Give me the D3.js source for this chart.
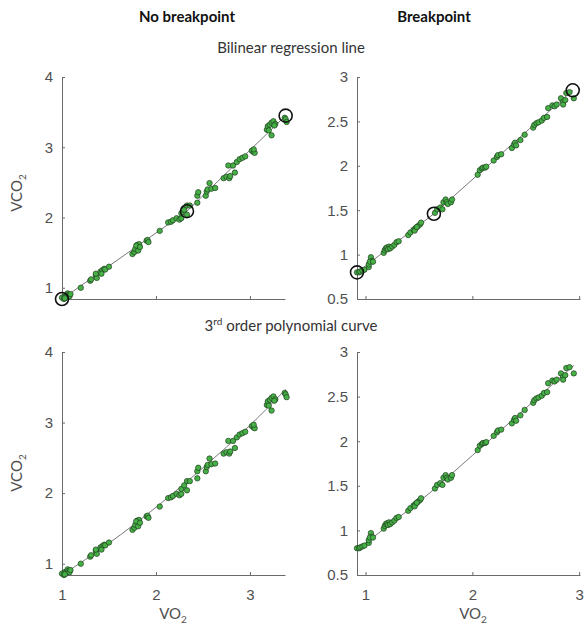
<!DOCTYPE html>
<html>
<head>
<meta charset="utf-8">
<script src="https://cdn.jsdelivr.net/npm/d3@7"></script>
<style>
  html, body { margin: 0; padding: 0; background: #fff; }
  svg { display: block; font-family: Lato, "Open Sans", sans-serif; }
  .tick text { fill: #505050; }
  .domain, .tick line { stroke: #6a6a6a; }
</style>
</head>
<body>
<svg id="chart" width="584" height="631"></svg>
<script>
// Measurements without a breakpoint (VO2, VCO2)
const noBpVO2 = [1.00,1.02,1.03,1.04,1.05,1.06,1.07,1.08,1.09,1.03,
  1.20,1.30,1.31,1.36,1.37,1.36,1.41,1.43,1.45,1.46,1.42,1.50,
  1.75,1.77,1.78,1.80,1.82,1.81,1.79,1.83,1.90,1.91,1.92,2.04,
  2.13,2.16,2.18,2.22,2.25,2.27,2.27,2.33,2.30,2.33,2.36,
  2.44,2.44,2.45,2.53,2.54,2.57,2.55,2.59,2.63,
  2.72,2.75,2.78,2.79,2.77,2.84,2.82,2.86,2.89,2.92,2.95,
  3.02,3.04,3.05,3.04,3.18,3.19,3.21,3.23,3.25,3.20,3.27,3.26,3.23,
  3.37,3.38,3.39];
const noBpVCO2 = [0.86,0.84,0.88,0.86,0.89,0.92,0.90,0.88,0.91,0.85,
  1.00,1.10,1.12,1.18,1.14,1.20,1.23,1.25,1.27,1.26,1.20,1.30,
  1.48,1.51,1.55,1.61,1.62,1.53,1.60,1.58,1.67,1.68,1.65,1.81,
  1.93,1.94,1.96,1.99,1.97,1.99,2.06,2.04,2.11,2.17,2.17,
  2.21,2.31,2.36,2.31,2.37,2.49,2.40,2.41,2.42,
  2.56,2.58,2.56,2.59,2.74,2.64,2.74,2.79,2.83,2.85,2.87,
  2.95,2.93,2.92,2.97,3.25,3.30,3.32,3.35,3.37,3.24,3.33,3.31,3.17,
  3.42,3.40,3.36];

// Measurements with a breakpoint (VO2, VCO2)
const bpVO2 = [0.92,0.94,0.95,0.97,0.99,
  1.03,1.03,1.05,1.06,1.04,1.07,
  1.17,1.18,1.19,1.20,1.22,1.21,1.23,1.25,1.27,1.29,1.31,
  1.40,1.42,1.45,1.47,1.49,1.46,1.51,1.52,1.48,
  1.65,1.67,1.70,1.72,1.73,1.75,1.76,1.77,1.80,1.81,
  2.05,2.07,2.09,2.10,2.12,2.13,
  2.20,2.23,2.24,2.27,
  2.37,2.39,2.40,2.41,2.45,2.49,
  2.57,2.58,2.60,2.62,2.65,2.67,2.70,
  2.71,2.75,2.77,2.79,
  2.83,2.85,2.85,2.87,2.88,2.91,2.95];
const bpVCO2 = [0.80,0.80,0.81,0.82,0.83,
  0.86,0.89,0.97,0.93,0.92,0.92,
  1.02,1.05,1.07,1.08,1.09,1.06,1.07,1.09,1.11,1.14,1.15,
  1.22,1.25,1.28,1.30,1.32,1.27,1.34,1.36,1.31,
  1.47,1.51,1.53,1.51,1.59,1.62,1.59,1.57,1.59,1.62,
  1.90,1.95,1.97,1.98,1.98,1.99,
  2.06,2.10,2.12,2.13,
  2.20,2.24,2.26,2.23,2.29,2.35,
  2.43,2.46,2.48,2.49,2.51,2.54,2.55,
  2.65,2.68,2.67,2.69,
  2.76,2.72,2.69,2.74,2.82,2.83,2.76];

// Bilinear regression: start, breakpoint, end
const noBpKnotsVO2  = [1.00, 2.33, 3.38];
const noBpKnotsVCO2 = [0.84, 2.09, 3.45];
const bpKnotsVO2    = [0.92, 1.64, 2.94];
const bpKnotsVCO2   = [0.80, 1.46, 2.85];

// Third-order polynomial curves, sampled along VO2
const noBpPolyVO2  = [1.00, 1.50, 2.00, 2.50, 3.00, 3.38];
const noBpPolyVCO2 = [0.84, 1.29, 1.80, 2.36, 2.96, 3.47];
const bpPolyVO2    = [0.92, 1.25, 1.50, 2.00, 2.50, 2.95];
const bpPolyVCO2   = [0.78, 1.09, 1.32, 1.84, 2.37, 2.85];

// Axis ticks
const noBpXTicks = [1, 2, 3];
const noBpYTicks = [1, 2, 3, 4];
const bpXTicks = [1, 2, 3];
const bpYTicks = [0.5, 1, 1.5, 2, 2.5, 3];

const zip = (xs, ys) => xs.map((x, i) => [x, ys[i]]);

const svg = d3.select("#chart");

const leftCol  = { x0: 62,  x1: 285, xDomain: [1.0, 3.373], yDomain: [0.84, 4.0],
                   pts: zip(noBpVO2, noBpVCO2), knots: zip(noBpKnotsVO2, noBpKnotsVCO2),
                   poly: zip(noBpPolyVO2, noBpPolyVCO2), xTicks: noBpXTicks, yTicks: noBpYTicks };
const rightCol = { x0: 357, x1: 580, xDomain: [0.92, 3.008], yDomain: [0.5, 3.0],
                   pts: zip(bpVO2, bpVCO2), knots: zip(bpKnotsVO2, bpKnotsVCO2),
                   poly: zip(bpPolyVO2, bpPolyVCO2), xTicks: bpXTicks, yTicks: bpYTicks };
const topRow = { y0: 77,  y1: 299, kind: "bilinear", showX: false };
const botRow = { y0: 352, y1: 575, kind: "poly",     showX: true  };

function panel(col, row) {
  const x = d3.scaleLinear().domain(col.xDomain).range([col.x0, col.x1]);
  const y = d3.scaleLinear().domain(col.yDomain).range([row.y1, row.y0]);
  const g = svg.append("g");

  const yAxis = d3.axisLeft(y).tickValues(col.yTicks).tickSizeInner(-3).tickSizeOuter(0)
    .tickPadding(9).tickFormat(d3.format("~g"));
  g.append("g").attr("transform", `translate(${col.x0},0)`).call(yAxis)
    .call(a => a.selectAll("text").attr("font-size", 15).attr("font-family", null));

  const xAxis = d3.axisBottom(x).tickValues(col.xTicks).tickSizeInner(-3).tickSizeOuter(0)
    .tickPadding(14).tickFormat(row.showX ? d3.format("~g") : () => "");
  g.append("g").attr("transform", `translate(0,${row.y1})`).call(xAxis)
    .call(a => a.selectAll("text").attr("font-size", 15).attr("font-family", null));
  g.selectAll(".domain").attr("stroke", "#6a6a6a");

  const line = d3.line().x(d => x(d[0])).y(d => y(d[1]));
  if (row.kind === "poly") line.curve(d3.curveMonotoneX);
  const fit = row.kind === "poly" ? col.poly : col.knots;

  g.append("path").datum(fit).attr("d", line)
    .attr("fill", "none").attr("stroke", "#7a7a7a").attr("stroke-width", 1);

  g.append("g").selectAll("circle").data(col.pts).join("circle")
    .attr("cx", d => x(d[0])).attr("cy", d => y(d[1])).attr("r", 2.7)
    .attr("fill", "#46b046").attr("stroke", "#1f3d1f").attr("stroke-width", 0.7);

  if (row.kind === "bilinear") {
    g.append("g").selectAll("circle").data(col.knots).join("circle")
      .attr("cx", d => x(d[0])).attr("cy", d => y(d[1])).attr("r", 6.5)
      .attr("fill", "none").attr("stroke", "#111").attr("stroke-width", 1.6);
  }
}

panel(leftCol, topRow);
panel(rightCol, topRow);
panel(leftCol, botRow);
panel(rightCol, botRow);

// Column and row headings
svg.append("text").attr("x", 187).attr("y", 22).attr("text-anchor", "middle")
  .attr("font-size", 15).attr("font-weight", "bold").attr("fill", "#111").text("No breakpoint");
svg.append("text").attr("x", 434).attr("y", 22).attr("text-anchor", "middle")
  .attr("font-size", 15).attr("font-weight", "bold").attr("fill", "#111").text("Breakpoint");
svg.append("text").attr("x", 291).attr("y", 53).attr("text-anchor", "middle")
  .attr("font-size", 15).attr("fill", "#333").text("Bilinear regression line");
const polyTitle = svg.append("text").attr("x", 291).attr("y", 331).attr("text-anchor", "middle")
  .attr("font-size", 15).attr("fill", "#333");
polyTitle.append("tspan").text("3");
polyTitle.append("tspan").attr("font-size", 10).attr("dy", -6).text("rd");
polyTitle.append("tspan").attr("dy", 6).text(" order polynomial curve");

// Axis titles with subscripts
function gasLabel(sel, base) {
  sel.append("tspan").text(base);
  sel.append("tspan").attr("font-size", 10).attr("dy", 4).text("2");
}
[193, 473].forEach(cy => {
  svg.append("text").attr("transform", `translate(22,${cy}) rotate(-90)`)
    .attr("text-anchor", "middle").attr("font-size", 15).attr("fill", "#505050")
    .call(gasLabel, "VCO");
});
[173, 473].forEach(cx => {
  svg.append("text").attr("x", cx).attr("y", 619).attr("text-anchor", "middle")
    .attr("font-size", 15).attr("fill", "#505050").call(gasLabel, "VO");
});
</script>
</body>
</html>
